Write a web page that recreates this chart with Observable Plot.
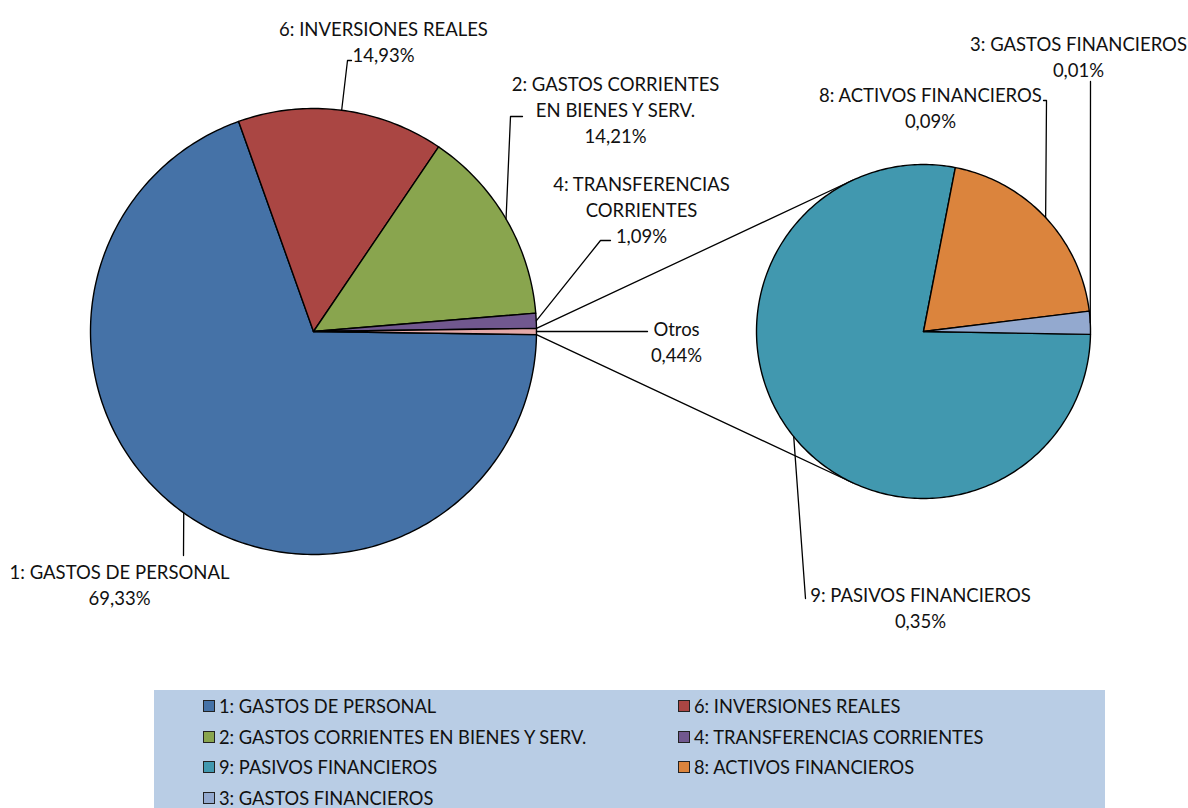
<!DOCTYPE html>
<html><head><meta charset="utf-8">
<script src="https://cdn.jsdelivr.net/npm/d3@7"></script>
<script src="https://cdn.jsdelivr.net/npm/@observablehq/plot@0.6"></script>
<style>
body{margin:0;background:#fff;font-family:Lato,"Open Sans",sans-serif;}
#chart svg{display:block}
#legend{margin-left:154px;width:951px;height:118px;background:#b9cde5;position:relative;}
.item{position:absolute;display:flex;align-items:center;font-size:18.3px;color:#111;white-space:nowrap;transform:translateY(-50%);font-family:Lato,sans-serif}
.sw{width:10px;height:10px;border:1.5px solid #222;margin-right:4px}
</style></head><body><div id="chart"></div><div id="legend"></div>
<script>
// ---- data ----
const mainCategories = ["1: GASTOS DE PERSONAL","6: INVERSIONES REALES","2: GASTOS CORRIENTES EN BIENES Y SERV.","4: TRANSFERENCIAS CORRIENTES","Otros"];
const mainValues = [69.33, 14.93, 14.21, 1.09, 0.44];
const subCategories = ["9: PASIVOS FINANCIEROS","8: ACTIVOS FINANCIEROS","3: GASTOS FINANCIEROS"];
const subValues = [0.35, 0.09, 0.01];
const legendOrder = ["1: GASTOS DE PERSONAL","6: INVERSIONES REALES","2: GASTOS CORRIENTES EN BIENES Y SERV.","4: TRANSFERENCIAS CORRIENTES","9: PASIVOS FINANCIEROS","8: ACTIVOS FINANCIEROS","3: GASTOS FINANCIEROS"];

// ---- styles / layout ----
const colors = {
  "1: GASTOS DE PERSONAL":"#4572a7","6: INVERSIONES REALES":"#aa4643",
  "2: GASTOS CORRIENTES EN BIENES Y SERV.":"#89a54e","4: TRANSFERENCIAS CORRIENTES":"#71588f",
  "Otros":"#e4a9a8","9: PASIVOS FINANCIEROS":"#4198af","8: ACTIVOS FINANCIEROS":"#db843d",
  "3: GASTOS FINANCIEROS":"#93a9cf"
};
const W = 1188, H = 690, FS = 18.5, LH = 26;
const mainPie = {cx:313, cy:331, r:223};
const subPie = {cx:923, cy:331, r:167, start:91};
// label layout: text block centre + leader bend points
const labelLayout = {
  "1: GASTOS DE PERSONAL":{tx:119, ty:583.5, bends:[[183,555]]},
  "6: INVERSIONES REALES":{tx:383, ty:40.5, bends:[[347,60],[351,60]]},
  "2: GASTOS CORRIENTES EN BIENES Y SERV.":{tx:615, ty:108.5, wrap:20, bends:[[510,116],[522,116]]},
  "4: TRANSFERENCIAS CORRIENTES":{tx:641, ty:208, wrap:20, bends:[[600,240],[610,240]]},
  "Otros":{tx:676, ty:340, bends:[[647,331]]},
  "9: PASIVOS FINANCIEROS":{tx:920, ty:606, bends:[[805,598]]},
  "8: ACTIVOS FINANCIEROS":{tx:930, ty:106, bends:[[1046,100],[1043,100]]},
  "3: GASTOS FINANCIEROS":{tx:1078, ty:55, bends:[[1090,81]]}
};

// ---- geometry ----
const rad = a => a * Math.PI / 180;
const pt = (p, r, a) => [p.cx + r * Math.sin(rad(a)), p.cy - r * Math.cos(rad(a))];

function slices(cats, vals, pie, start) {
  const total = d3.sum(vals);
  let a = start;
  return cats.map((c, i) => {
    const span = vals[i] / total * 360;
    const s = {key:c, value:vals[i], a0:a, a1:a + span, mid:a + span/2, pie};
    a += span;
    return s;
  });
}
const otrosSpan = mainValues[4] / d3.sum(mainValues) * 360;
const mainSlices = slices(mainCategories, mainValues, mainPie, 90 + otrosSpan/2);
const subSlices = slices(subCategories, subValues, subPie, subPie.start);
const allSlices = [...mainSlices, ...subSlices];

function slicePoly(s) {
  const p = s.pie, pts = [[p.cx, p.cy]];
  const n = Math.max(2, Math.ceil((s.a1 - s.a0) / 1));
  for (let i = 0; i <= n; i++) pts.push(pt(p, p.r, s.a0 + (s.a1 - s.a0) * i / n));
  return pts.map(([x, y]) => ({x, y}));
}

function wrap(text, w) {
  if (!w) return text;
  const words = text.split(" "); const lines = []; let cur = "";
  for (const wd of words) {
    if (cur && (cur + " " + wd).length > w) { lines.push(cur); cur = wd; }
    else cur = cur ? cur + " " + wd : wd;
  }
  lines.push(cur);
  return lines.join("\n");
}
const fmt = v => v.toFixed(2).replace(".", ",") + "%";

const labels = allSlices.map(s => {
  const L = labelLayout[s.key];
  return {x:L.tx, y:L.ty, text: wrap(s.key, L.wrap) + "\n" + fmt(s.value)};
});
const leaders = allSlices.map(s => {
  const L = labelLayout[s.key];
  return [pt(s.pie, s.pie.r, s.mid), ...L.bends].map(([x, y]) => ({x, y}));
});

// connectors: Otros slice edges to tangents of the second pie
const otros = mainSlices[4];
function tangent(P, c, upper) {
  const dx = P[0] - c.cx, dy = P[1] - c.cy, d = Math.hypot(dx, dy);
  const phi = Math.atan2(dy, dx), al = Math.acos(c.r / d);
  const t1 = [c.cx + c.r * Math.cos(phi + al), c.cy + c.r * Math.sin(phi + al)];
  const t2 = [c.cx + c.r * Math.cos(phi - al), c.cy + c.r * Math.sin(phi - al)];
  return upper ? (t1[1] < t2[1] ? t1 : t2) : (t1[1] > t2[1] ? t1 : t2);
}
const pTop = pt(mainPie, mainPie.r, otros.a0), pBot = pt(mainPie, mainPie.r, otros.a1);
const connectors = [[pTop, tangent(pTop, subPie, true)], [pBot, tangent(pBot, subPie, false)]]
  .map(seg => seg.map(([x, y]) => ({x, y})));

const marks = [];
for (const c of connectors) marks.push(Plot.line(c, {x:"x", y:"y", stroke:"#000", strokeWidth:1.3}));
for (const s of allSlices) marks.push(Plot.line(slicePoly(s), {x:"x", y:"y", curve:"linear-closed", fill:colors[s.key], stroke:"#000", strokeWidth:1.4, strokeLinejoin:"round"}));
for (const l of leaders) marks.push(Plot.line(l, {x:"x", y:"y", stroke:"#000", strokeWidth:1.3}));
marks.push(Plot.text(labels, {x:"x", y:"y", text:"text", fontSize:FS, lineHeight:LH/FS, textAnchor:"middle", fill:"#111", fontFamily:"Lato"}));

const chart = Plot.plot({
  width:W, height:H, margin:0,
  x:{domain:[0, W], range:[0, W], axis:null},
  y:{domain:[0, H], range:[0, H], axis:null},
  style:{background:"#fff", fontFamily:"Lato"},
  marks
});
document.getElementById("chart").appendChild(chart);

// legend
const lg = document.getElementById("legend");
const rowY = [16, 47, 77, 108], colX = [49, 524];
legendOrder.forEach((k, i) => {
  const el = document.createElement("div");
  el.className = "item";
  el.style.left = colX[i % 2] + "px";
  el.style.top = rowY[Math.floor(i / 2)] + "px";
  el.innerHTML = `<span class="sw" style="background:${colors[k]}"></span><span>${k}</span>`;
  lg.appendChild(el);
});
</script></body></html>
